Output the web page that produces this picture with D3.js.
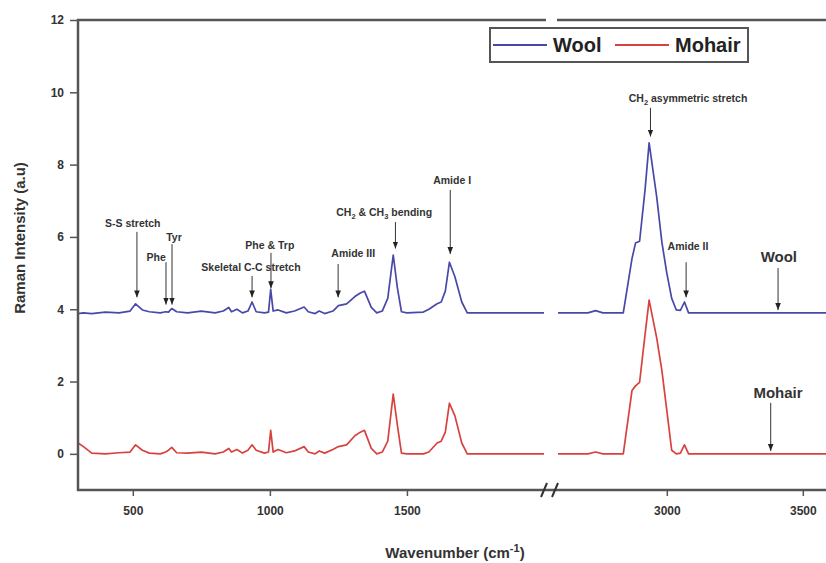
<!DOCTYPE html>
<html>
<head>
<meta charset="utf-8">
<script src="https://cdn.jsdelivr.net/npm/d3@7"></script>
<style>
  body { margin: 0; background: #fff; }
  text { font-family: "Liberation Sans", Arial, sans-serif; }
</style>
</head>
<body>
<div id="chart"></div>
<script>
// spectra, left segment (300-2000 cm-1)
var leftWn = [300, 320, 350, 400, 450, 490, 510, 535, 560, 600, 620, 630, 642, 660, 700, 750, 800, 830, 850, 860,
    880, 900, 920, 935, 950, 980, 995, 1003, 1012, 1030, 1060, 1090, 1125, 1140, 1165, 1180, 1200, 1230, 1250, 1280,
    1310, 1330, 1345, 1370, 1390, 1410, 1430, 1450, 1465, 1480, 1500, 1560, 1580, 1610, 1625, 1640, 1655, 1675, 1700, 1720,
    1800, 2000];
var woolLeft = [3.88, 3.9, 3.88, 3.92, 3.9, 3.95, 4.15, 3.98, 3.93, 3.9, 3.93, 3.92, 4.02, 3.93, 3.9, 3.95, 3.9, 3.95, 4.05, 3.93,
    4.0, 3.9, 3.95, 4.2, 3.93, 3.9, 3.92, 4.55, 3.95, 3.98, 3.9, 3.95, 4.06, 3.93, 3.88, 3.95, 3.88, 3.95, 4.1, 4.15,
    4.35, 4.45, 4.5, 4.05, 3.9, 3.95, 4.3, 5.5, 4.6, 3.93, 3.9, 3.92, 4.0, 4.15, 4.2, 4.5, 5.3, 4.9, 4.2, 3.9,
    3.9, 3.9];
var mohairLeft = [0.3, 0.2, 0.02, 0.0, 0.03, 0.05, 0.25, 0.1, 0.02, 0.0, 0.05, 0.1, 0.18, 0.03, 0.02, 0.05, 0.0, 0.05, 0.15, 0.05,
    0.12, 0.02, 0.1, 0.25, 0.1, 0.02, 0.05, 0.65, 0.05, 0.12, 0.03, 0.08, 0.2, 0.05, 0.0, 0.08, 0.02, 0.12, 0.2, 0.25,
    0.5, 0.6, 0.65, 0.15, 0.0, 0.05, 0.35, 1.65, 0.8, 0.02, 0.0, 0.0, 0.05, 0.3, 0.35, 0.6, 1.4, 1.05, 0.3, 0.0,
    0.0, 0.0];

// spectra, right segment (2600-3600 cm-1)
var rightWn = [2600, 2710, 2738, 2765, 2840, 2872, 2885, 2900, 2920, 2935, 2963, 2982, 3000, 3018, 3035, 3050, 3065, 3080, 3600];
var woolRight = [3.9, 3.9, 3.96, 3.9, 3.9, 5.4, 5.83, 5.88, 7.3, 8.6, 7.1, 5.85, 5.0, 4.3, 3.98, 3.97, 4.2, 3.9, 3.9];
var mohairRight = [0, 0, 0.05, 0, 0, 1.75, 1.88, 1.98, 3.3, 4.25, 3.2, 2.3, 1.2, 0.1, 0.0, 0.02, 0.25, 0.0, 0.0];

var yTicks = [0, 2, 4, 6, 8, 10, 12];
var xTicksLeft = [500, 1000, 1500];
var xTicksRight = [3000, 3500];

// band assignments: arrow at wn from top to tip, label centred at lx / ly
var bands = [
    {label: "S-S stretch", wn: 515, top: 6.14, tip: 4.3, lx: 500, ly: 6.28},
    {label: "Phe", wn: 621, top: 5.3, tip: 4.1, lx: 585, ly: 5.34},
    {label: "Tyr", wn: 643, top: 5.8, tip: 4.1, lx: 650, ly: 5.89},
    {label: "Skeletal C-C stretch", wn: 935, top: 4.92, tip: 4.3, lx: 931, ly: 5.06},
    {label: "Phe & Trp", wn: 1004, top: 5.56, tip: 4.55, lx: 1000, ly: 5.67},
    {label: "Amide III", wn: 1249, top: 5.25, tip: 4.3, lx: 1304, ly: 5.45},
    {label: "CH|2| & CH|3| bending", wn: 1458, top: 6.41, tip: 5.65, lx: 1417, ly: 6.58},
    {label: "Amide I", wn: 1658, top: 7.3, tip: 5.5, lx: 1665, ly: 7.46}
];
var bandsRight = [
    {label: "CH|2| asymmetric stretch", wn: 2940, top: 9.57, tip: 8.75, lx: 3078, ly: 9.73},
    {label: "Amide II", wn: 3071, top: 5.3, tip: 4.3, lx: 3078, ly: 5.64}
];
var seriesTags = [
    {label: "Wool", wn: 3409, top: 5.14, tip: 3.95, lx: 3412, ly: 5.31},
    {label: "Mohair", wn: 3382, top: 1.41, tip: 0.05, lx: 3409, ly: 1.55}
];

var woolColor = "#4848a8", mohairColor = "#d8423e", axisColor = "#555";

var width = 826, height = 563;
var svg = d3.select("#chart").append("svg")
    .attr("width", width)
    .attr("height", height);

var xL = d3.scaleLinear().domain([300, 2000]).range([78, 544]);
var xR = d3.scaleLinear().domain([2600, 3600]).range([558, 830]);
var y = d3.scaleLinear().domain([-1, 12]).range([490, 20]);

svg.append("defs").append("marker")
    .attr("id", "head")
    .attr("viewBox", "0 0 10 10")
    .attr("refX", 10).attr("refY", 5)
    .attr("markerWidth", 7).attr("markerHeight", 7)
    .attr("orient", "auto")
    .append("path")
    .attr("d", "M0,1L10,5L0,9Z")
    .attr("fill", "#222");

function drawSeries(x, wn, vals, color) {
    var pts = wn.map(function (d, i) { return [d, vals[i]]; });
    var line = d3.line()
        .x(function (d) { return x(d[0]); })
        .y(function (d) { return y(d[1]); });
    svg.append("path")
        .datum(pts)
        .attr("fill", "none")
        .attr("stroke", color)
        .attr("stroke-width", 1.7)
        .attr("stroke-linejoin", "round")
        .attr("d", line);
}

drawSeries(xL, leftWn, woolLeft, woolColor);
drawSeries(xL, leftWn, mohairLeft, mohairColor);
drawSeries(xR, rightWn, woolRight, woolColor);
drawSeries(xR, rightWn, mohairRight, mohairColor);

// axes
var fmt = d3.format("d");
var gyAxis = svg.append("g")
    .attr("transform", "translate(78,0)")
    .call(d3.axisLeft(y).tickValues(yTicks).tickSize(8).tickPadding(6).tickFormat(fmt));
var gxL = svg.append("g")
    .attr("transform", "translate(0,490)")
    .call(d3.axisBottom(xL).tickValues(xTicksLeft).tickSize(6).tickPadding(10).tickFormat(fmt));
var gxR = svg.append("g")
    .attr("transform", "translate(0,490)")
    .call(d3.axisBottom(xR).tickValues(xTicksRight).tickSize(6).tickPadding(10).tickFormat(fmt));

[gyAxis, gxL, gxR].forEach(function (g) {
    g.select(".domain").remove();
    g.selectAll(".tick line").attr("stroke", axisColor).attr("stroke-width", 1.5);
    g.selectAll(".tick text")
        .attr("fill", "#333")
        .style("font-size", "12px")
        .style("font-weight", "bold");
});

// frame
svg.append("line").attr("x1", 78).attr("x2", 78).attr("y1", 19).attr("y2", 491)
    .attr("stroke", axisColor).attr("stroke-width", 2.5);
svg.append("line").attr("x1", 77).attr("x2", 826).attr("y1", 490).attr("y2", 490)
    .attr("stroke", axisColor).attr("stroke-width", 2.5);
svg.append("line").attr("x1", 77).attr("x2", 546).attr("y1", 20).attr("y2", 20)
    .attr("stroke", axisColor).attr("stroke-width", 2.5);
svg.append("line").attr("x1", 557).attr("x2", 826).attr("y1", 20).attr("y2", 20)
    .attr("stroke", axisColor).attr("stroke-width", 2.5);

// break marks
[544, 555].forEach(function (bx) {
    svg.append("line")
        .attr("x1", bx - 3).attr("y1", 497)
        .attr("x2", bx + 3).attr("y2", 483)
        .attr("stroke", "#333").attr("stroke-width", 2);
});

// axis titles
svg.append("text")
    .attr("transform", "translate(25,238) rotate(-90)")
    .attr("text-anchor", "middle")
    .attr("fill", "#333")
    .style("font-size", "15px")
    .style("font-weight", "bold")
    .text("Raman Intensity (a.u)");

var xt = svg.append("text")
    .attr("x", 455).attr("y", 558)
    .attr("text-anchor", "middle")
    .attr("fill", "#333")
    .style("font-size", "15px")
    .style("font-weight", "bold");
xt.append("tspan").text("Wavenumber (cm");
xt.append("tspan").attr("dy", -6).style("font-size", "11px").text("-1");
xt.append("tspan").attr("dy", 6).text(")");

// annotations
function annotate(list, x, size) {
    list.forEach(function (b) {
        svg.append("line")
            .attr("x1", x(b.wn)).attr("x2", x(b.wn))
            .attr("y1", y(b.top)).attr("y2", y(b.tip) - 1)
            .attr("stroke", "#333").attr("stroke-width", 1)
            .attr("marker-end", "url(#head)");
        var t = svg.append("text")
            .attr("x", x(b.lx)).attr("y", y(b.ly))
            .attr("text-anchor", "middle")
            .attr("fill", "#333")
            .style("font-size", size + "px")
            .style("font-weight", "bold");
        // "|n|" marks a subscript
        b.label.split("|").forEach(function (part, i) {
            if (i % 2 === 1) {
                t.append("tspan").attr("dy", 3).style("font-size", (size - 3) + "px").text(part);
            } else {
                t.append("tspan").attr("dy", i === 0 ? 0 : -3).text(part);
            }
        });
    });
}
annotate(bands, xL, 10.5);
annotate(bandsRight, xR, 10.5);
annotate(seriesTags, xR, 15);

// legend
var leg = svg.append("g").attr("transform", "translate(490,28)");
leg.append("rect")
    .attr("width", 258).attr("height", 34)
    .attr("fill", "#fff")
    .attr("stroke", axisColor).attr("stroke-width", 2);
[{name: "Wool", c: woolColor, x: 3}, {name: "Mohair", c: mohairColor, x: 125}].forEach(function (s) {
    leg.append("line")
        .attr("x1", s.x).attr("x2", s.x + 54)
        .attr("y1", 17).attr("y2", 17)
        .attr("stroke", s.c).attr("stroke-width", 2);
    leg.append("text")
        .attr("x", s.x + 60).attr("y", 24)
        .attr("fill", "#222")
        .style("font-size", "20px")
        .style("font-weight", "bold")
        .text(s.name);
});
</script>
</body>
</html>
